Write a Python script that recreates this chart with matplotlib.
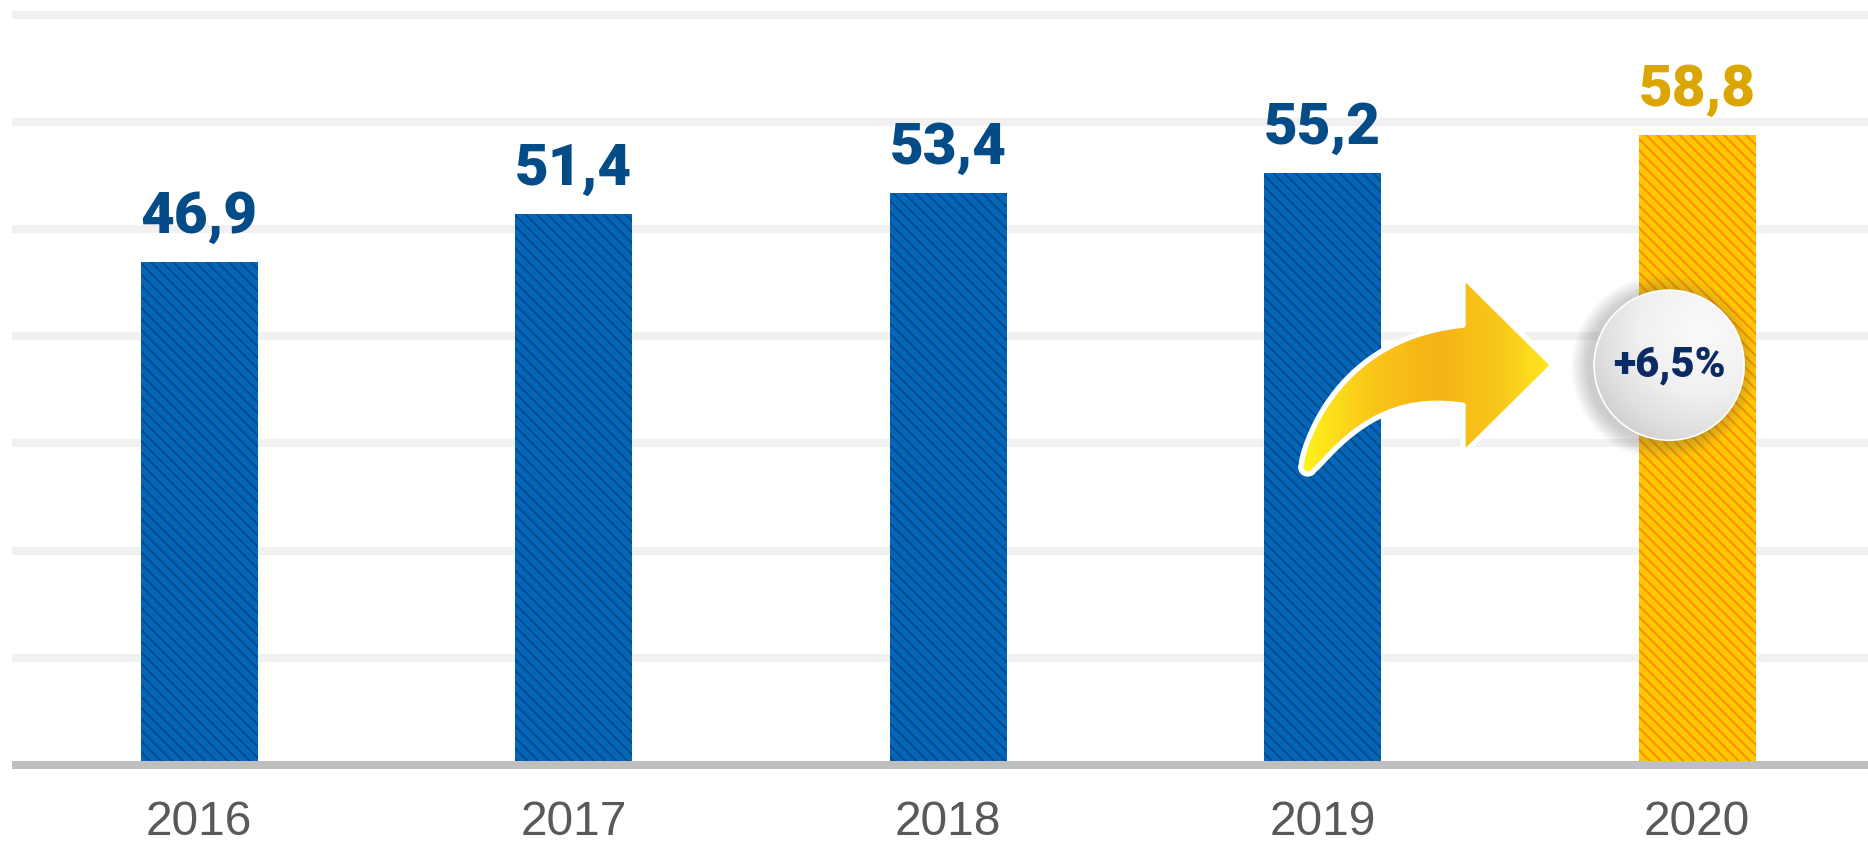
import numpy as np
import matplotlib
matplotlib.use("Agg")
import matplotlib.pyplot as plt
from matplotlib.patches import Polygon
from matplotlib.colors import LinearSegmentedColormap

# Data
years = ["2016", "2017", "2018", "2019", "2020"]
values = [46.9, 51.4, 53.4, 55.2, 58.8]
growth_label = "+6,5%"

# Decoration anchors (data coords: bar index, value)
arrow_from = (2.96, 27.8)
arrow_to = (3.615, 37.3)
badge_at = (3.925, 37.3)

# Colors
BLUE = "#0566b8"
BLUE_DARK = "#004d8f"
GOLD = "#ffc800"
ORANGE = "#ff8d00"
LABEL_BLUE = "#044c88"
LABEL_GOLD = "#dba600"
GRID = "#f1f1f1"
BASE = "#bfbfbf"

plt.rcParams["hatch.linewidth"] = 1.5

W, H = 1868, 841
fig = plt.figure(figsize=(W / 100, H / 100), dpi=100)
ax = fig.add_axes([12 / W, 76 / H, 1 - 12 / W, 761 / H])
ax.set_xlim(-0.5, 4.456)
ax.set_ylim(0, 71)
ax.set_autoscale_on(False)

x = np.arange(len(years))

# Grid lines
for yv in range(10, 71, 10):
    ax.axhline(yv, color=GRID, lw=5.8, zorder=0, solid_capstyle="butt")

# Bars
faces = [BLUE] * 4 + [GOLD]
hatches = [BLUE_DARK] * 4 + [ORANGE]
bars = ax.bar(x, values, width=0.312, linewidth=0, hatch="\\\\\\", zorder=3)
for b, fc, hc in zip(bars, faces, hatches):
    b.set_facecolor(fc)
    b.set_edgecolor(hc)
    b.set_linewidth(0)

# Baseline
ax.axhline(0, color=BASE, lw=5.8, zorder=4, clip_on=False, solid_capstyle="butt")

# Value labels
label_colors = [LABEL_BLUE] * 4 + [LABEL_GOLD]
for xi, v, c in zip(x, values, label_colors):
    ax.annotate(f"{v:.1f}".replace(".", ","), (xi, v), xytext=(0, 21),
                textcoords="offset points", ha="center", va="baseline",
                fontsize=42, fontweight="black", family="Roboto", color=c, zorder=6)

# Axes cosmetics
ax.set_yticks([])
ax.set_xticks(x, years)
ax.tick_params(axis="x", length=0, pad=25, labelsize=34.5, labelcolor="#595959")
for lab in ax.get_xticklabels():
    lab.set_family("Liberation Sans")
for s in ax.spines.values():
    s.set_visible(False)


def to_disp(p):
    return ax.transData.transform(p)


def to_data(pts):
    return ax.transData.inverted().transform(pts)


def gradient_fill(poly_disp, func, cmap, zorder):
    # fill a display-space polygon with a gradient image clipped to it
    clip = Polygon(to_data(poly_disp), closed=True, transform=ax.transData,
                   facecolor="none", edgecolor="none")
    ax.add_patch(clip)
    x0, y0 = poly_disp.min(axis=0)
    x1, y1 = poly_disp.max(axis=0)
    gx, gy = np.meshgrid(np.linspace(x0, x1, 200), np.linspace(y0, y1, 200))
    arr = func(gx, gy)
    (dx0, dy0), (dx1, dy1) = to_data([[x0, y0], [x1, y1]])
    im = ax.imshow(arr, extent=(dx0, dx1, dy0, dy1), origin="lower",
                   aspect="auto", cmap=cmap, vmin=0, vmax=1,
                   interpolation="bilinear", zorder=zorder)
    im.set_clip_path(clip)


# Curved arrow built in pixel space
S = to_disp(arrow_from)
T = to_disp(arrow_to)
head_len, head_w = 90, 178
w0, w1 = 14, 80
B = T - np.array([head_len, 0])
ang = np.deg2rad(63)
C = np.array([S[0] + (B[1] - S[1]) / np.tan(ang), B[1]])
t = np.linspace(0, 1, 80)[:, None]
P = (1 - t) ** 2 * S + 2 * (1 - t) * t * C + t ** 2 * B
D = 2 * (1 - t) * (C - S) + 2 * t * (B - C)
D /= np.linalg.norm(D, axis=1, keepdims=True)
N = np.column_stack([-D[:, 1], D[:, 0]])
w = w0 + (w1 - w0) * t[:, 0] ** 0.75
left = P + N * w[:, None] / 2
right = P - N * w[:, None] / 2
a0 = np.arctan2(N[0, 1], N[0, 0])
cap = np.column_stack([S[0] + w0 / 2 * np.cos(np.linspace(a0 + np.pi, a0, 14)),
                       S[1] + w0 / 2 * np.sin(np.linspace(a0 + np.pi, a0, 14))])
arrow_pts = np.vstack([left,
                       [B + N[-1] * head_w / 2, T, B - N[-1] * head_w / 2],
                       right[::-1], cap])

arrow_cmap = LinearSegmentedColormap.from_list(
    "arrow", [(0, "#fff21c"), (0.3, "#f9c318"), (0.55, "#f6b315"), (0.8, "#f9c91a"), (1, "#ffea1f")])
ax0, ax1 = arrow_pts[:, 0].min(), arrow_pts[:, 0].max()
gradient_fill(arrow_pts, lambda gx, gy: (gx - ax0) / (ax1 - ax0), arrow_cmap, 5)
ax.add_patch(Polygon(to_data(arrow_pts), closed=True, transform=ax.transData,
                     facecolor="none", edgecolor="white", lw=3.8,
                     joinstyle="round", zorder=6))

# Badge with soft shadow
Cc = to_disp(badge_at)
R = 75
th = np.linspace(0, 2 * np.pi, 200)
for k in range(18):
    r = R + 18 - k
    pts = np.column_stack([Cc[0] - 5 + r * np.cos(th), Cc[1] - 2 + r * np.sin(th)])
    ax.add_patch(Polygon(to_data(pts), closed=True, transform=ax.transData,
                         facecolor="#707070", edgecolor="none", alpha=0.018, zorder=7))
circle_pts = np.column_stack([Cc[0] + R * np.cos(th), Cc[1] + R * np.sin(th)])
badge_cmap = LinearSegmentedColormap.from_list(
    "badge", [(0, "#fbfbfb"), (0.45, "#f0f0f0"), (0.75, "#dcdcdc"), (1, "#c2c2c2")])
hx, hy = Cc[0] + 0.45 * R, Cc[1] + 0.45 * R
gradient_fill(circle_pts,
              lambda gx, gy: np.clip(np.hypot(gx - hx, gy - hy) / (1.9 * R), 0, 1),
              badge_cmap, 8)
ax.add_patch(Polygon(to_data(circle_pts), closed=True, transform=ax.transData,
                     facecolor="none", edgecolor="white", lw=1.2, zorder=9))
ax.text(badge_at[0], badge_at[1], growth_label, ha="center", va="center",
        fontsize=30, fontweight="black", family="Roboto", color="#0c2a63", zorder=10)

fig.savefig("out.png", dpi=100)
